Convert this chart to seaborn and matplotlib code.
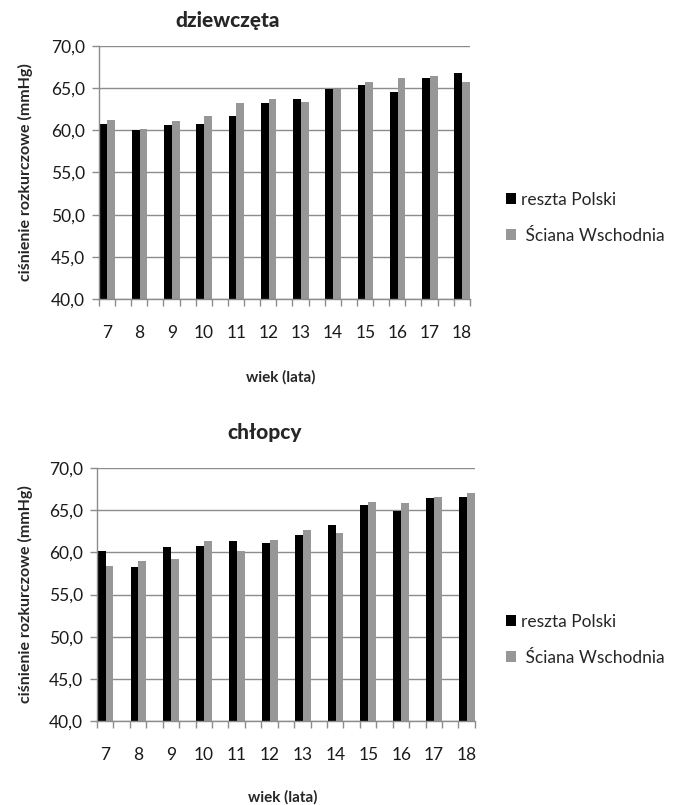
import numpy as np
import pandas as pd
import matplotlib
matplotlib.use("Agg")
import matplotlib.pyplot as plt
import seaborn as sns
from matplotlib.patches import Patch
from matplotlib.ticker import FuncFormatter, FixedLocator

# Age groups (years)
ages = ["7", "8", "9", "10", "11", "12", "13", "14", "15", "16", "17", "18"]
groups = ["reszta Polski", "Ściana Wschodnia"]

# Mean diastolic pressure (mmHg), girls
girls_rest = [60.7, 60.0, 60.6, 60.7, 61.7, 63.2, 63.7, 64.9, 65.4, 64.5, 66.2, 66.8]
girls_east = [61.2, 60.2, 61.1, 61.7, 63.2, 63.7, 63.4, 64.9, 65.7, 66.2, 66.4, 65.7]

# Mean diastolic pressure (mmHg), boys
boys_rest = [60.2, 58.3, 60.6, 60.7, 61.4, 61.1, 62.0, 63.2, 65.6, 64.9, 66.4, 66.6]
boys_east = [58.4, 59.0, 59.2, 61.4, 60.2, 61.5, 62.6, 62.3, 66.0, 65.8, 66.6, 67.0]

titles = ["dziewczęta", "chłopcy"]
y_ticks = [40, 45, 50, 55, 60, 65, 70]

BLACK = "#000000"
GRAY = "#979797"
GRID = "#8c8c8c"

sns.set_theme(style="white")
plt.rcParams["font.family"] = ["Lato", "DejaVu Sans"]

W, H = 678, 805
fig = plt.figure(figsize=(W / 100, H / 100), dpi=100)


def frame(rest, east):
    return pd.DataFrame({
        "wiek": ages * 2,
        "cisnienie": rest + east,
        "grupa": [groups[0]] * len(ages) + [groups[1]] * len(ages),
    })


# axes boxes in pixels: left, top, right, bottom
boxes = [(99, 46, 470, 299), (97, 468, 475, 721)]
title_pos = [(228, 20), (265, 432)]
xlabel_y = [377, 797]
ylabel_x = 25
legend_y = [218, 640]

for k, (rest, east) in enumerate([(girls_rest, girls_east), (boys_rest, boys_east)]):
    l, t, r, b = boxes[k]
    ax = fig.add_axes([l / W, 1 - b / H, (r - l) / W, (b - t) / H])
    df = frame(rest, east)
    sns.barplot(data=df, x="wiek", y="cisnienie", hue="grupa", order=ages,
                hue_order=groups, palette=[BLACK, GRAY], width=0.48,
                saturation=1, linewidth=0, errorbar=None, legend=False, ax=ax)
    ax.set_ylim(40, 70)
    x0, x1 = -0.26, 11.245
    ax.set_xlim(x0, x1)
    ax.set_yticks(y_ticks)
    ax.yaxis.set_major_formatter(FuncFormatter(lambda v, p: f"{v:.1f}".replace(".", ",")))
    ax.yaxis.grid(True, color=GRID, linewidth=1.0)
    ax.set_axisbelow(True)
    for s in ["top", "right"]:
        ax.spines[s].set_visible(False)
    for s in ["left", "bottom"]:
        ax.spines[s].set_color(GRID)
        ax.spines[s].set_linewidth(1.0)
    # category labels under each pair, short ticks on half-category boundaries
    ax.set_xticks(range(len(ages)))
    ax.set_xticklabels(ages)
    ax.tick_params(axis="x", which="major", length=0, pad=19, labelsize=12.5, labelcolor="#1a1a1a")
    ax.xaxis.set_minor_locator(FixedLocator(np.arange(x0, x1 + 0.01, 0.5)))
    ax.tick_params(axis="x", which="minor", bottom=True, length=5, width=1, color=GRID)
    ax.tick_params(axis="y", left=True, length=5, width=1, color=GRID, pad=5,
                   labelsize=12.5, labelcolor="#1a1a1a")
    ax.set_xlabel("")
    ax.set_ylabel("")

    fig.text(title_pos[k][0] / W, 1 - title_pos[k][1] / H, titles[k],
             ha="center", va="center", fontsize=15, fontweight="black")
    fig.text((l + r) / 2 / W - 0.005, 1 - xlabel_y[k] / H, "wiek (lata)",
             ha="center", va="center", fontsize=11, fontweight="bold")
    fig.text(ylabel_x / W, 1 - (t + b) / 2 / H, "ciśnienie rozkurczowe (mmHg)",
             ha="center", va="center", rotation=90, fontsize=11.5, fontweight="bold")

    handles = [Patch(facecolor=BLACK, edgecolor="none"), Patch(facecolor=GRAY, edgecolor="none")]
    fig.legend(handles, ["reszta Polski", " Ściana Wschodnia"], loc="center left",
               bbox_to_anchor=(497 / W, 1 - legend_y[k] / H), frameon=False,
               fontsize=12.5, handlelength=0.6, handleheight=0.6, handletextpad=0.3,
               labelspacing=1.15, borderpad=0)

fig.savefig("out.png", dpi=100)
